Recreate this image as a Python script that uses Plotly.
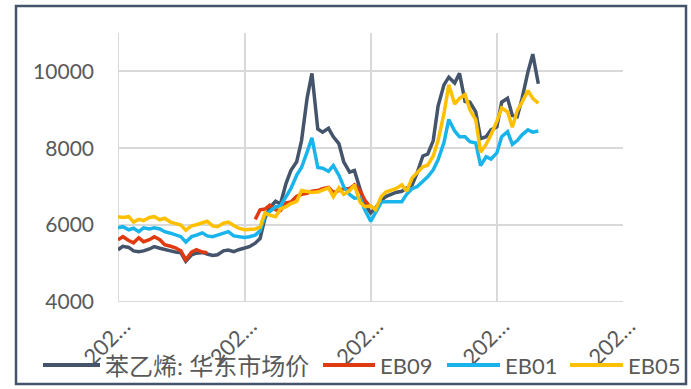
import pandas as pd
import plotly.graph_objects as go

# Semi-monthly observation dates
dates = pd.date_range("2020-01-01", periods=81, freq="SMS")

# 苯乙烯: 华东市场价 (spot, East China)
spot = [
    5360, 5450, 5420, 5330, 5310, 5330, 5380, 5440, 5400, 5360,
    5330, 5300, 5280, 5060, 5230, 5270, 5290, 5250, 5210, 5230,
    5330, 5350, 5310, 5360, 5400, 5440, 5530, 5650, 6180, 6450,
    6620, 6550, 7080, 7420, 7650, 8200, 9300, 9950, 8500, 8420,
    8520, 8300, 8120, 7650, 7380, 7420, 6950, 6550, 6320, 6450,
    6650, 6750, 6800, 6850, 6880, 6950, 7050, 7350, 7800, 7850,
    8200, 9100, 9650, 9850, 9700, 9950, 9220, 9200, 8950, 8250,
    8300, 8480, 8560, 9200, 9300, 8850, 8820, 9300, 9990, 10450,
    9680,
]

# EB09 contract
eb09 = [
    5620, 5700, 5600, 5540, 5670, 5570, 5620, 5700, 5620, 5490,
    5450, 5410, 5330, 5100, 5300, 5360, 5300, 5280, None, None,
    None, None, None, None, None, None, 6150, 6400, 6420, 6520,
    6400, 6380, 6580, 6600, 6750, 6800, 6830, 6880, 6900, 6950,
    6980, 6850, 6900, 6950, 6950, 7050, 6900, 6650, 6450, None,
    None, None, None, None, None, None, None, None, None, None,
    None, None, None, None, None, None, None, None, None, None,
    None, None, None, None, None, None, None, None, None, None,
    None,
]

# EB01 contract
eb01 = [
    5930, 5960, 5880, 5920, 5830, 5930, 5900, 5930, 5900, 5830,
    5790, 5740, 5700, 5560, 5700, 5740, 5800, 5720, 5700, 5740,
    5790, 5830, 5720, 5700, 5680, 5700, 5740, 5850, 6250, 6350,
    6480, 6500, 6720, 6950, 7300, 7500, 7900, 8270, 7500, 7480,
    7400, 7550, 7300, 7000, 6800, 6700, 6720, 6400, 6100, 6320,
    6600, 6610, 6610, 6610, 6610, 6800, 6950, 7000, 7130, 7260,
    7440, 7700, 8150, 8750, 8450, 8300, 8300, 8170, 8140, 7550,
    7780, 7720, 7880, 8300, 8430, 8100, 8200, 8350, 8480, 8420,
    8450,
]

# EB05 contract
eb05 = [
    6220, 6200, 6220, 6080, 6150, 6120, 6200, 6220, 6140, 6180,
    6080, 6040, 6000, 5870, 5980, 6010, 6060, 6100, 5980, 5960,
    6050, 6080, 5990, 5920, 5880, 5880, 5900, 5950, 6320, 6260,
    6220, 6420, 6480, 6560, 6620, 6900, 6880, 6850, 6860, 6900,
    6970, 6740, 6970, 6800, 6900, 7050, 6600, 6480, 6500, 6400,
    6750, 6870, 6920, 6950, 7050, 6880, 7230, 7360, 7520, 7560,
    7800, 8200, 8900, 9650, 9150, 9300, 9400, 9000, 8740, 7900,
    8100, 8350, 8700, 9050, 8950, 8550, 8980, 9200, 9500, 9300,
    9170,
]

x_ticks = ["2020-01-01", "2021-01-01", "2022-01-01", "2023-01-01", "2024-01-01"]
x_tick_text = ["202…"] * 5
y_ticks = [4000, 6000, 8000, 10000]
y_tick_text = ["4000", "6000", "8000", "10000"]

series = [
    ("苯乙烯: 华东市场价", spot, "#44546A"),
    ("EB09", eb09, "#E03A10"),
    ("EB01", eb01, "#19B4EC"),
    ("EB05", eb05, "#FFC000"),
]

# Layout geometry (pixels)
W, H = 691, 389
ML, MR, MT, MB = 118, 68, 33, 87
PW, PH = W - ML - MR, H - MT - MB


def px_x(px):
    return (px - ML) / PW


def px_y(py):
    return (H - MB - py) / PH


family = "Lato, Noto Sans CJK SC, sans-serif"
grey = "#595959"

fig = go.Figure()
for name, values, color in series:
    fig.add_trace(go.Scatter(
        x=dates, y=values, name=name, mode="lines",
        line=dict(color=color, width=3.5), showlegend=False,
    ))

# Bottom legend row: sample line + label for each series
legend_slots = [(43, 100, 24), (323, 375, 22), (447, 500, 22), (570, 623, 22)]
shapes = []
annotations = []
for (name, _, color), (x0, x1, fsize) in zip(series, legend_slots):
    shapes.append(dict(
        type="line", xref="paper", yref="paper",
        x0=px_x(x0), x1=px_x(x1), y0=px_y(365), y1=px_y(365),
        line=dict(color=color, width=4),
    ))
    annotations.append(dict(
        text=name, xref="paper", yref="paper",
        x=px_x(x1 + 3), y=px_y(366), xanchor="left", yanchor="middle",
        showarrow=False, font=dict(family=family, size=fsize, color=grey),
    ))

# Chart frame and plot-area edges
shapes += [
    dict(
        type="rect", xref="paper", yref="paper",
        x0=px_x(16), x1=px_x(686), y0=px_y(384), y1=px_y(6),
        line=dict(color="#44546A", width=2.5), fillcolor="rgba(0,0,0,0)",
        layer="below",
    ),
    dict(
        type="line", xref="paper", yref="y",
        x0=0, x1=1, y0=4000, y1=4000,
        line=dict(color="#D9D9D9", width=2), layer="below",
    ),
    dict(
        type="line", xref="x", yref="paper",
        x0=x_ticks[0], x1=x_ticks[0], y0=0, y1=1,
        line=dict(color="#D9D9D9", width=2), layer="below",
    ),
]

fig.update_layout(
    width=W, height=H,
    margin=dict(l=ML, r=MR, t=MT, b=MB, autoexpand=False),
    paper_bgcolor="white", plot_bgcolor="white",
    font=dict(family=family, size=21, color=grey),
    showlegend=False,
    xaxis=dict(
        type="date", range=["2020-01-01", "2024-01-01"],
        tickvals=x_ticks, ticktext=x_tick_text, tickangle=-45,
        showgrid=True, gridcolor="#D9D9D9", gridwidth=2,
        zeroline=False, showline=False, ticks="", automargin=False,
        ticklabelstandoff=6, ticklabelshift=6,
        tickfont=dict(family=family, size=22, color=grey),
    ),
    yaxis=dict(
        range=[4000, 11000], tickvals=y_ticks, ticktext=y_tick_text,
        showgrid=True, gridcolor="#D9D9D9", gridwidth=2,
        zeroline=False, showline=False, ticks="", automargin=False,
        ticklabelstandoff=23, tickfont=dict(family=family, size=21, color=grey),
    ),
    shapes=shapes,
    annotations=annotations,
)

fig.write_html("out.html")
